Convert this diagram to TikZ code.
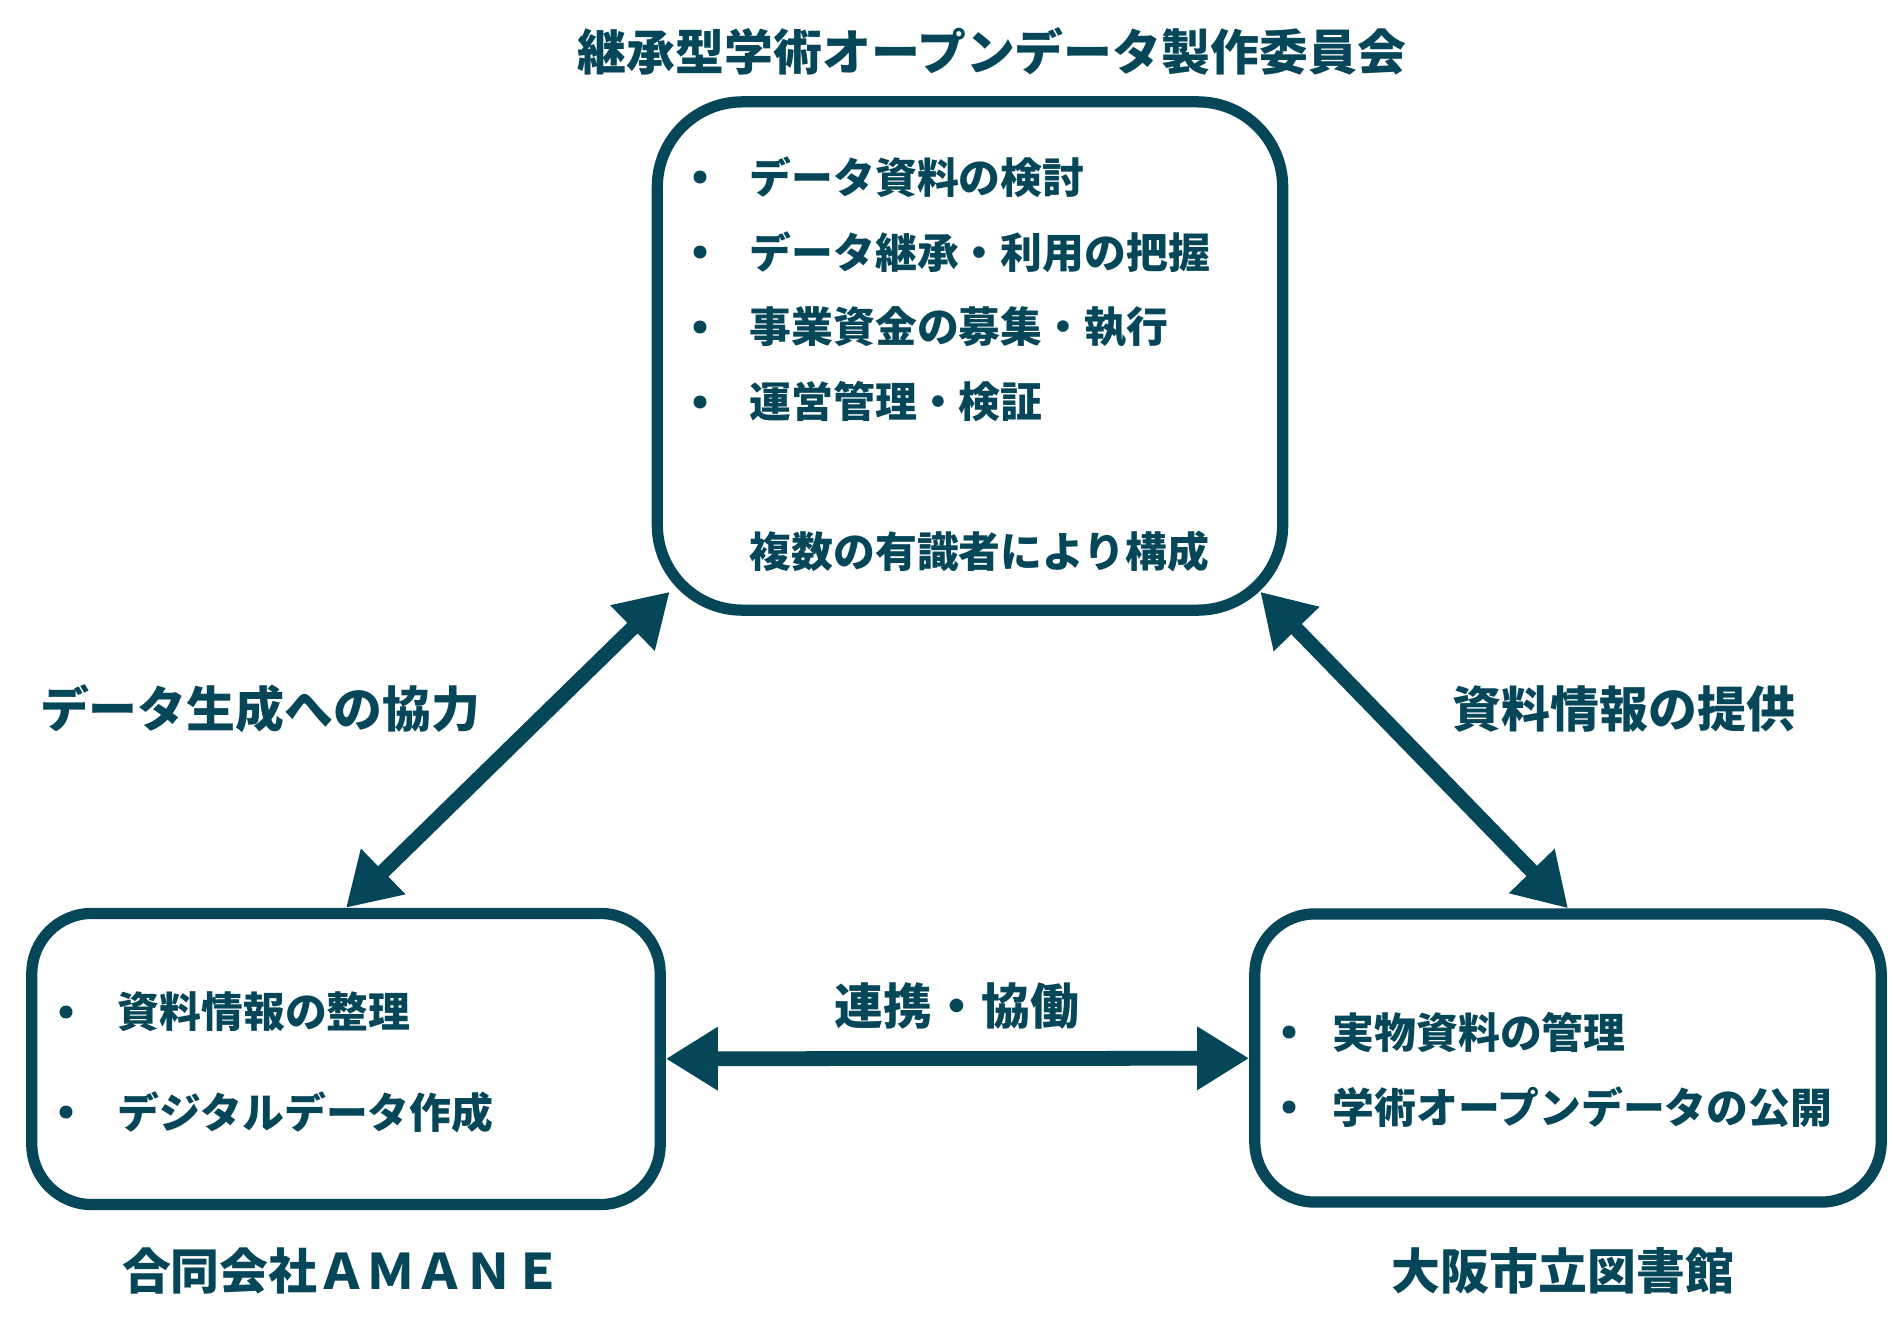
\documentclass[tikz,border=0pt]{standalone}
\usepackage{fontspec}
\setmainfont{Noto Sans CJK JP}
\usetikzlibrary{arrows.meta}
\definecolor{teal}{RGB}{5,70,88}
\tikzset{
	box/.style={draw=teal,line width=3.2pt,rounded corners=0.85cm,inner sep=0pt},
	big/.style={text=teal,font=\bfseries\fontsize{13.9}{16}\selectfont},
	item/.style={text=teal,font=\bfseries\fontsize{11.9}{14}\selectfont,anchor=west,inner sep=0pt},
	link/.style={draw=teal,line width=4.2pt,{Triangle[length=0.52cm,width=0.6cm]}-{Triangle[length=0.52cm,width=0.6cm]}},
}
\begin{document}
\begin{tikzpicture}[x=0.01cm,y=-0.01cm]
		\useasboundingbox (0,0) rectangle (1893,1327);
		% the three boxes
		\node[box,minimum width=6.25cm,minimum height=5.08cm] (top) at (970,356) {};
		\node[box,minimum width=6.28cm,minimum height=2.91cm,rounded corners=0.6cm] (lbox) at (346,1059) {};
		\node[box,minimum width=6.26cm,minimum height=2.88cm,rounded corners=0.6cm] (rbox) at (1568,1058) {};
		% names
		\node[big] (ttl) at (992,51) {継承型学術オープンデータ製作委員会};
		\node[big] (lttl) at (342,1271) {合同会社ＡＭＡＮＥ};
		\node[big] (rttl) at (1563,1271) {大阪市立図書館};
		% items
		\foreach \i/\y/\t in {1/177/データ資料の検討,2/252/データ継承・利用の把握,3/327/事業資金の募集・執行,4/402/運営管理・検証}{
			\fill[teal] (700,\y) circle (0.065cm);
			\node[item] (top-\i) at (749,\y) {\t};
		}
		\node[item] (top-5) at (749,552) {複数の有識者により構成};
		\foreach \i/\y/\t in {1/1012/資料情報の整理,2/1112/デジタルデータ作成}{
			\fill[teal] (66,\y) circle (0.065cm);
			\node[item] (lbox-\i) at (117,\y) {\t};
		}
		\foreach \i/\y/\t in {1/1032/実物資料の管理,2/1107/学術オープンデータの公開}{
			\fill[teal] (1289,\y) circle (0.065cm);
			\node[item] (rbox-\i) at (1332,\y) {\t};
		}
		% connectors
		\coordinate (tl) at ([shift={(18,-24)}]top.south west);
		\coordinate (tr) at ([shift={(-28,-24)}]top.south east);
		\draw[link] (tl) -- (lbox.north);
		\draw[link] (tr) -- (rbox.north);
		\draw[link] (lbox) -- (rbox);
		\node[big] (lab1) at (260,709) {データ生成への協力};
		\node[big] (lab2) at (1624,709) {資料情報の提供};
		\node[big] (lab3) at (957,1006) {連携・協働};
\end{tikzpicture}
\end{document}
